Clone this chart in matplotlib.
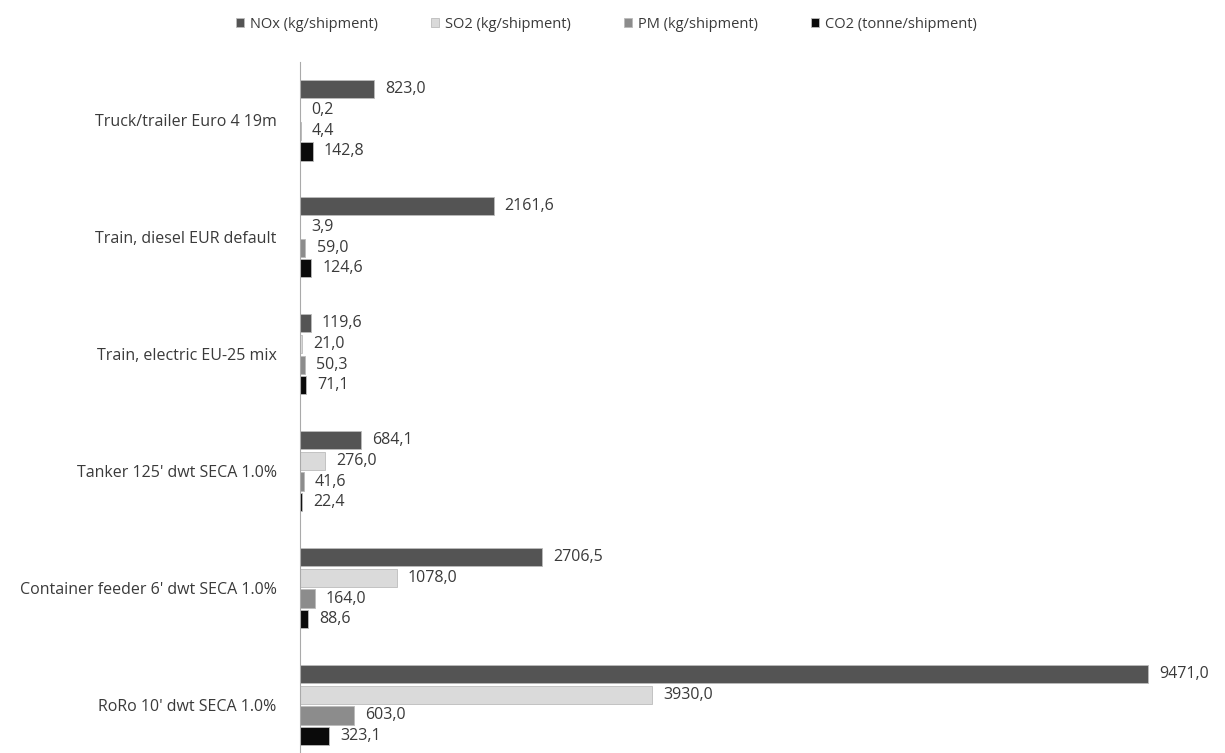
import matplotlib.pyplot as plt
import numpy as np

plt.rcParams["font.family"] = ["Open Sans", "DejaVu Sans"]

categories = [
    "Truck/trailer Euro 4 19m",
    "Train, diesel EUR default",
    "Train, electric EU-25 mix",
    "Tanker 125' dwt SECA 1.0%",
    "Container feeder 6' dwt SECA 1.0%",
    "RoRo 10' dwt SECA 1.0%",
]
series_names = [
    "NOx (kg/shipment)",
    "SO2 (kg/shipment)",
    "PM (kg/shipment)",
    "CO2 (tonne/shipment)",
]
nox = [823.0, 2161.6, 119.6, 684.1, 2706.5, 9471.0]
so2 = [0.2, 3.9, 21.0, 276.0, 1078.0, 3930.0]
pm = [4.4, 59.0, 50.3, 41.6, 164.0, 603.0]
co2 = [142.8, 124.6, 71.1, 22.4, 88.6, 323.1]

colors = ["#545454", "#dadada", "#8c8c8c", "#0a0a0a"]


def main() -> None:
    fig = plt.figure(figsize=(12.25, 7.53), dpi=100)
    ax = fig.add_axes([0.245, -0.014, 0.7306, 0.932])

    y = np.arange(len(categories))
    step = 0.178
    h = 0.155
    for i, (name, vals) in enumerate(zip(series_names, [nox, so2, pm, co2])):
        bars = ax.barh(y + (i - 1.5) * step, vals, height=h, color=colors[i],
                       edgecolor="#bbbbbb", linewidth=0.6, label=name)
        ax.bar_label(bars, labels=[f"{v:.1f}".replace(".", ",") for v in vals],
                     padding=8, fontsize=11.5, color="#3a3a3a")

    ax.set_xlim(0, 10000)
    ax.set_ylim(len(categories) - 0.5, -0.5)
    ax.set_yticks(y)
    ax.set_yticklabels(categories, fontsize=11.5, color="#3a3a3a")
    ax.tick_params(axis="y", length=0, pad=17)
    ax.set_xticks([])
    for s in ["top", "right", "bottom"]:
        ax.spines[s].set_visible(False)
    ax.spines["left"].set_color("#aaaaaa")

    fig.legend(loc="upper center", bbox_to_anchor=(0.495, 0.995), ncol=4,
               frameon=False, fontsize=10.5, handlelength=0.6, handleheight=0.6,
               columnspacing=3.6, handletextpad=0.4, labelcolor="#3a3a3a")

    fig.savefig("out.png", dpi=100)
    plt.close(fig)


if __name__ == "__main__":
    main()
